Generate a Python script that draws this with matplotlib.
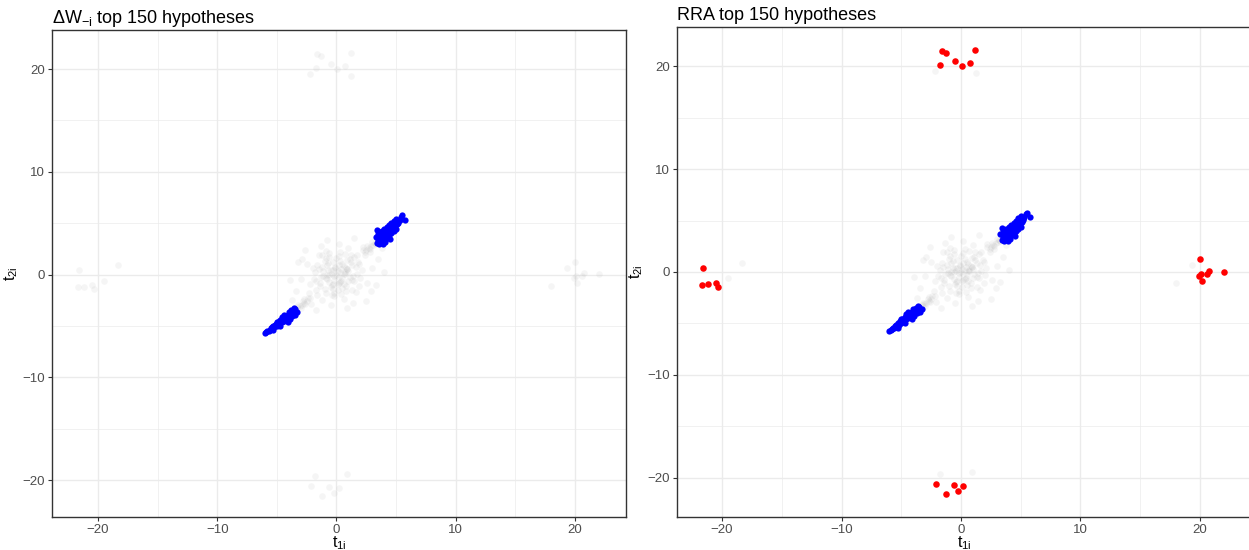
import matplotlib
matplotlib.use("Agg")
import matplotlib.pyplot as plt

plt.rcParams['font.family'] = ['Liberation Sans', 'DejaVu Sans']
plt.rcParams['mathtext.fontset'] = 'custom'
plt.rcParams['mathtext.rm'] = 'Liberation Sans'

# ---------------- data ----------------
# central grey cloud (all hypotheses)
gray_t1 = [0, 0.3, -0.4, 0.5, -0.2, 0.8, -0.7, 0.2, -0.9, 1.1, -0.3, 0.6, -1.2, 1.3, -0.5, 0.9, -1.4, 1.5, 0.1, -1.0,
           0.4, -0.6, 0.7, -0.1, 0.2, -0.8, 1.0, -0.3, 0.5, -1.1,
           1.8, -1.7, 2.1, -2.0, 0.3, -0.2, 1.6, -1.5, 2.4, -2.3, 2.6, -2.5, 1.0, -1.2, 0.6, -0.9, 2.8, -2.7, 1.9, -1.8,
           2.2, -2.1, 3.0, -3.0, 0.2, -0.5, 1.4, -1.3, 2.9, -2.9, 1.2, -1.4, 1.7, -1.6, 0.8, -0.6, 2.0, -2.2, 1.3, -0.9,
           3.5, -3.4, 1.5, -1.7, 3.3, -3.2, -0.8, 0.9, 3.8, -3.7, 2.5, -2.6, 4.0, -3.9,
           2.5, 2.7, 2.9, 3.1, 2.6, 3.0, 3.2, 2.4, 2.8, 3.3,
           -2.5, -2.7, -2.9, -3.1, -2.6, -3.0, -3.2, -2.4, -2.8, -3.3, -3.5, -3.6,
           0.1, -0.2, 0.4, -0.5, 0.7, -0.8, 0.2, -0.1, 0.6, -0.4, 1.0, -1.1, 0.3, -0.3, 0.9, -0.7, 1.2, -1.3, 0.5, -0.6,
           0.0, 0.8, -0.9, 1.4, -1.5, 0.2, -0.2, 1.1, -1.0, 0.4, 1.6, -1.7, 0.7, -0.4, 1.9, -1.9, 0.1, -0.6, 1.3, -1.2,
           0.6, -0.8, 0.9, -0.3, 0.3, 1.7, -1.6, 2.2, -2.2, 1.5]
gray_t2 = [0, 0.2, 0.1, -0.3, -0.5, 0.6, 0.4, 0.9, -0.3, -0.2, 1.2, -0.9, 0.7, 0.9, -1.2, 1.4, -0.8, -0.6, -1.5, 1.3,
           0.5, -0.7, 0.1, 0.6, -0.2, 0.9, 0.3, -0.9, 1.0, -0.1,
           1.2, -1.5, 0.4, 0.6, 2.2, -2.1, -1.7, 1.9, 1.9, -1.8, -0.8, 1.0, 2.6, -2.5, -2.4, 2.3, 2.2, -2.4, -1.1, 0.2,
           2.7, -2.9, 0.6, -0.4, 3.0, -3.0, -2.8, 2.8, -1.6, 1.5, 1.9, -1.1, 0.1, 0.9, -1.6, 1.7, -0.3, -0.9, -0.5, -1.8,
           1.5, -1.6, 3.6, -3.5, -1.0, 1.2, 3.4, -3.3, 2.6, -2.5, -2.6, 2.4, 0.2, -0.5,
           2.4, 2.6, 2.8, 2.9, 2.8, 3.2, 3.1, 2.2, 2.5, 3.0,
           -2.6, -2.8, -3.0, -3.1, -2.9, -3.3, -3.0, -2.3, -2.6, -3.2, -3.4, -3.6,
           0.3, -0.1, -0.6, 0.4, 0.2, -0.4, -0.8, 0.7, 0.8, -1.0, -0.6, 0.3, 1.3, -1.4, 0.5, 1.1, 1.2, -0.2, -1.3, 0.0,
           1.6, -1.1, 1.6, -0.1, 0.5, 1.8, -1.8, 1.5, -1.4, -1.9, 0.7, -0.6, 2.0, -2.0, 1.0, -0.4, -0.9, 2.1, -1.5, 1.9,
           0.1, 0.0, 0.5, 0.4, -0.7, 1.9, -2.0, 2.4, -2.3, 1.7]

# outlying hypotheses (four groups)
top_t1 = [-1.62, -1.28, -1.73, -0.48, 0.08, 0.73, 1.20, -2.2, 1.25]
top_t2 = [21.46, 21.29, 20.13, 20.51, 20.0, 20.26, 21.52, 19.5, 19.3]
right_t1 = [20.0, 20.06, 19.94, 20.56, 20.75, 20.19, 21.98, 19.36, 18.0]
right_t2 = [1.23, -0.17, -0.36, -0.17, 0.13, -0.87, 0.03, 0.68, -1.07]
left_t1 = [-21.6, -21.7, -21.2, -20.5, -20.3, -18.3, -19.5]
left_t2 = [0.4, -1.25, -1.2, -1.05, -1.45, 0.9, -0.6]
bottom_t1 = [-2.1, -1.25, -0.6, -0.25, 0.17, -1.8, 0.9]
bottom_t2 = [-20.6, -21.6, -20.7, -21.25, -20.8, -19.6, -19.4]

# number of outliers in each group selected by RRA
n_red_top, n_red_right, n_red_left, n_red_bottom = 7, 7, 5, 5

# selected (blue) hypotheses near the diagonal
blue_up_t1 = [3.4, 3.5, 3.6, 3.3, 3.7, 3.8, 3.5, 3.9, 4.0, 3.6, 4.1, 4.2, 3.8, 4.3, 4.4, 4.0, 4.5, 4.6, 4.2, 4.7,
              4.8, 4.4, 4.9, 5.0, 4.6, 5.1, 4.8, 5.2, 5.0, 5.3, 5.4, 5.5, 5.75, 3.9, 4.1, 3.4, 4.5, 3.7, 4.0, 4.3,
              4.6, 4.9, 3.55, 4.15, 4.45, 4.75, 5.15, 3.8, 4.25, 4.55]
blue_up_t2 = [3.1, 3.4, 3.0, 3.7, 3.6, 3.3, 3.9, 3.8, 3.4, 4.1, 4.0, 3.6, 4.2, 4.2, 3.8, 4.4, 4.3, 4.0, 4.6, 4.5,
              4.2, 4.8, 4.7, 4.4, 5.0, 4.9, 5.2, 5.1, 5.4, 5.3, 5.6, 5.75, 5.3, 3.0, 3.2, 4.3, 3.5, 3.9, 3.7, 4.5,
              4.6, 5.0, 3.55, 4.1, 4.05, 4.85, 5.05, 3.7, 4.35, 4.45]
blue_lo_t1 = [-3.3, -3.5, -3.6, -3.8, -3.7, -3.9, -4.0, -4.1, -4.2, -4.3, -4.4, -4.5, -4.6, -4.7, -4.8, -4.9, -5.0,
              -5.1, -5.2, -5.3, -5.4, -5.5, -5.6, -5.8, -6.0, -5.9, -4.1, -3.9, -4.6, -4.4, -5.0, -4.7, -5.3, -3.6,
              -4.25, -4.55, -4.85, -5.15, -3.95, -4.35, -5.45, -3.45, -5.7, -4.0]
blue_lo_t2 = [-3.6, -3.4, -3.8, -3.5, -4.0, -3.8, -4.2, -3.9, -4.3, -4.0, -4.5, -4.2, -4.6, -4.4, -4.8, -4.6, -5.0,
              -4.8, -5.1, -5.0, -5.3, -5.2, -5.4, -5.5, -5.7, -5.6, -4.6, -4.3, -4.1, -3.9, -4.6, -5.0, -5.4, -3.3,
              -4.1, -4.35, -4.7, -4.95, -4.0, -4.25, -5.15, -3.9, -5.45, -3.6]

titles = [r'$\mathregular{\Delta W_{-i}}$ top 150 hypotheses', 'RRA top 150 hypotheses']
ticks = [-20, -10, 0, 10, 20]
minor_ticks = [-15, -5, 5, 15]

# ---------------- drawing ----------------
W, H = 1249, 550
fig = plt.figure(figsize=(W / 100, H / 100), dpi=100)
ax1 = fig.add_axes([52 / W, 1 - 517 / H, 574 / W, 487 / H])
ax2 = fig.add_axes([677 / W, 1 - 517 / H, 574 / W, 490 / H])

all_t1 = gray_t1 + top_t1 + right_t1 + left_t1 + bottom_t1 + blue_up_t1 + blue_lo_t1
all_t2 = gray_t2 + top_t2 + right_t2 + left_t2 + bottom_t2 + blue_up_t2 + blue_lo_t2

red_t1 = top_t1[:n_red_top] + right_t1[:n_red_right] + left_t1[:n_red_left] + bottom_t1[:n_red_bottom]
red_t2 = top_t2[:n_red_top] + right_t2[:n_red_right] + left_t2[:n_red_left] + bottom_t2[:n_red_bottom]

blue_t1 = blue_up_t1 + blue_lo_t1
blue_t2 = blue_up_t2 + blue_lo_t2

for i, ax in enumerate([ax1, ax2]):
    ax.scatter(all_t1, all_t2, s=22, color='#A8A8A8', alpha=0.11, linewidths=0, zorder=2)
    ax.scatter(blue_t1, blue_t2, s=20, color='#0000FF', linewidths=0, zorder=3)
    if i == 1:
        ax.scatter(red_t1, red_t2, s=22, color='#FF0000', linewidths=0, zorder=3)

    ax.set_xticks(ticks)
    ax.set_yticks(ticks)
    ax.set_xticks(minor_ticks, minor=True)
    ax.set_yticks(minor_ticks, minor=True)
    ax.set_xticklabels(['\u221220', '\u221210', '0', '10', '20'])
    ax.set_yticklabels(['\u221220', '\u221210', '0', '10', '20'])
    ax.grid(True, which='major', color='#EBEBEB', linewidth=1.0, zorder=0)
    ax.grid(True, which='minor', color='#EBEBEB', linewidth=0.5, zorder=0)
    ax.set_axisbelow(True)
    ax.tick_params(which='major', length=3, width=0.8, color='#333333', labelsize=9.5,
                   labelcolor='#4D4D4D', pad=2)
    ax.tick_params(which='minor', length=0)
    for sp in ax.spines.values():
        sp.set_color('#333333')
        sp.set_linewidth(1.0)
    ax.set_xlabel(r'$\mathregular{t_{1i}}$', fontsize=11.5, labelpad=-1)
    ax.set_ylabel(r'$\mathregular{t_{2i}}$', fontsize=11.5, labelpad=2)
    ax.set_title(titles[i], loc='left', fontsize=13, pad=5)

ax1.set_xlim(-23.86, 24.28)
ax1.set_ylim(-23.6, 23.8)
ax2.set_xlim(-23.77, 24.27)
ax2.set_ylim(-23.79, 23.79)

fig.savefig('out.png', dpi=100)
